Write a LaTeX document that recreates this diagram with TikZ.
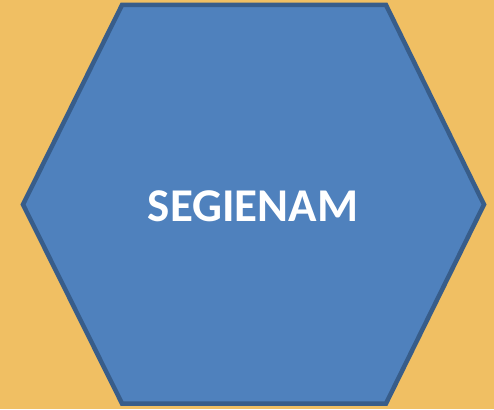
\documentclass[tikz,border=0pt]{standalone}
\usepackage{fontspec}
\setmainfont{Carlito}
\usepackage{tikz}
\usetikzlibrary{positioning, calc}
\definecolor{backdrop}{HTML}{F0BF63}
\definecolor{hexfill}{HTML}{4F81BD}
\definecolor{hexline}{HTML}{385D8A}

\begin{document}
\begin{tikzpicture}[
    x=1pt, y=-1pt,
    hexbox/.style={draw=hexline, fill=hexfill, line width=4.5pt, line join=miter},
    title/.style={font=\fontsize{47}{52}\selectfont\bfseries, text=white},
]

% background
\fill[backdrop] (0, 0) rectangle (494, 409);
\useasboundingbox (0, 0) rectangle (494, 409);

% hexagon corners
\coordinate (tl) at (122, 5);
\coordinate (tr) at (386, 5);
\coordinate (r) at (484, 204.5);
\coordinate (br) at (386, 403.5);
\coordinate (bl) at (122, 403.5);
\coordinate (l) at (23, 204.5);

\draw[hexbox] (tl) -- (tr) -- (r) -- (br) -- (bl) -- (l) -- cycle;

% label in the middle
\node[title] (label) at (253, 206) {SEGIENAM};

\end{tikzpicture}
\end{document}
